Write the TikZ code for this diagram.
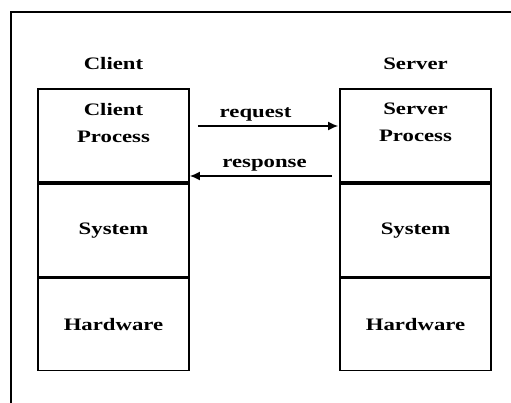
\documentclass[tikz,border=0pt]{standalone}
\usepackage{fontspec}
\setmainfont{Liberation Serif}[FakeStretch=1.3]
\usepackage{tikz}
\usetikzlibrary{arrows.meta,positioning}
\tikzset{%
	layer/.style = {draw, line width=1.8pt, rectangle, minimum width=151pt, inner sep=0pt, text centered},
	title/.style = {font=\fontsize{17.5}{27}\selectfont\bfseries, inner sep=1pt},
	arrow/.style = {line width=1.5pt, -{Latex[length=10pt,width=9pt]}},
}

\begin{document}
\begin{tikzpicture}[x=1pt,y=1pt]
		\useasboundingbox (0,0) rectangle (511,403);
		\draw[line width=1.8pt] (511,391) -- (11,391) -- (11,0);
		
		% client side
		\node[title] (client) at (113.5,339) {Client};
		\node[layer,minimum height=93pt] (cliproc) at (113.5,267.5) {};
		\node[title,align=center,below=14pt of cliproc.north] (clitext) {Client\\Process};
		\node[layer,minimum height=93pt,below=0pt of cliproc,title] (clisys) {System};
		\node[layer,minimum height=92pt,below=0pt of clisys,title] (clihw) {Hardware};
		
		% server side
		\node[title] (server) at (415.5,339) {Server};
		\node[layer,minimum height=93pt] (srvproc) at (415.5,267.5) {};
		\node[title,align=center,below=14pt of srvproc.north] (srvtext) {Server\\Process};
		\node[layer,minimum height=93pt,below=0pt of srvproc,title] (srvsys) {System};
		\node[layer,minimum height=92pt,below=0pt of srvsys,title] (srvhw) {Hardware};
		
		\draw[arrow,shorten <=8pt,shorten >=1pt] ([yshift=9.5pt]cliproc.east) -- ([yshift=9.5pt]srvproc.west) node[title,above=3pt,pos=0.44] (req) {request};
		\draw[arrow,shorten <=7pt] ([yshift=-40.5pt]srvproc.west) -- ([yshift=-40.5pt]cliproc.east) node[title,above=3pt,pos=0.5] (resp) {response};
\end{tikzpicture}
\end{document}
